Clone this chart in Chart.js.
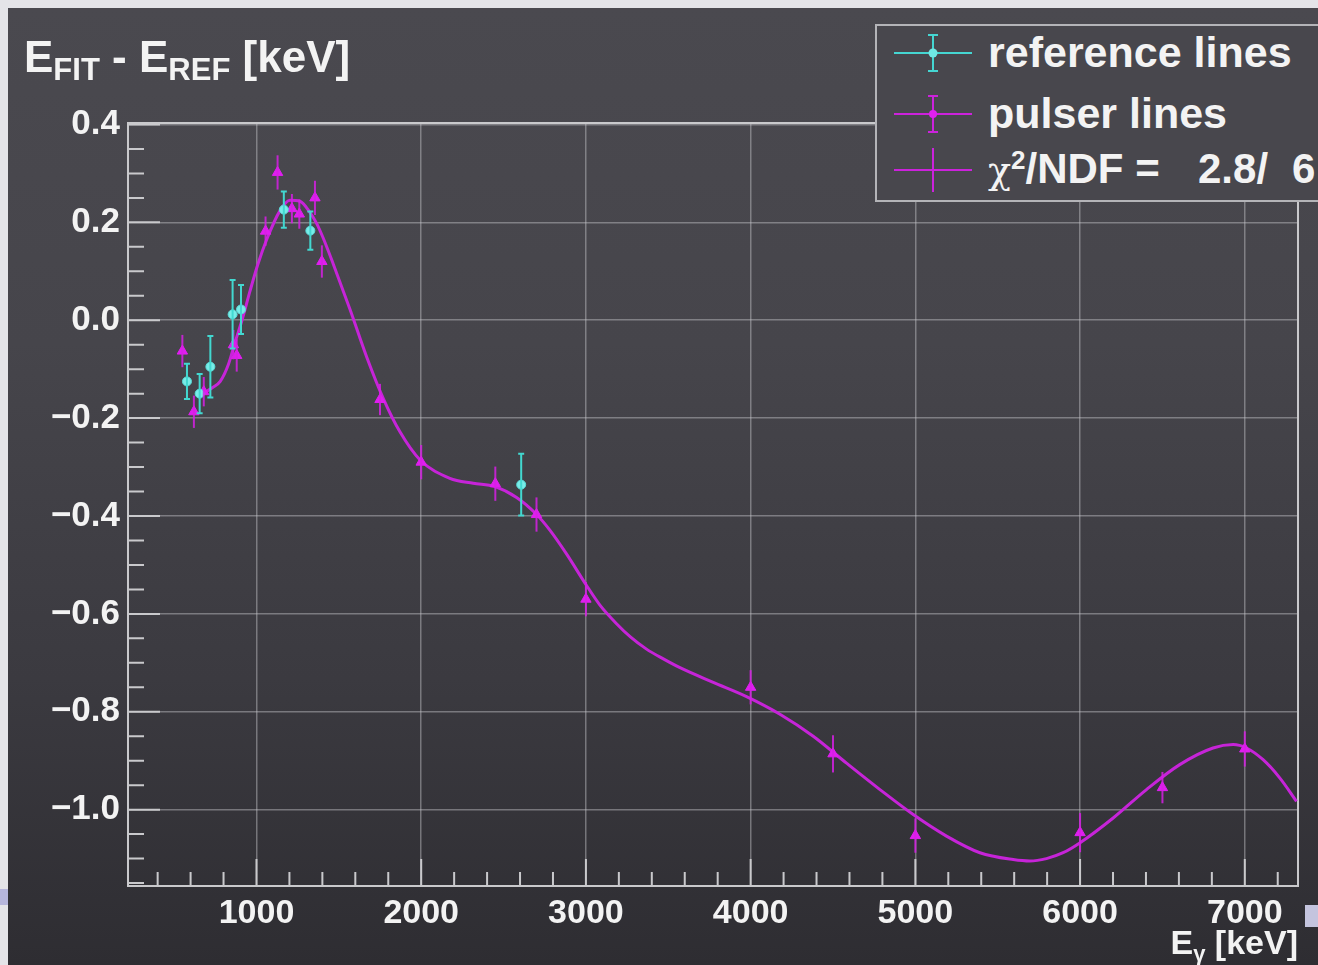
<!DOCTYPE html>
<html>
<head>
<meta charset="utf-8">
<script src="https://cdn.jsdelivr.net/npm/chart.js@4.4.1/dist/chart.umd.min.js"></script>
<style>
  html, body { margin: 0; padding: 0; width: 1318px; height: 965px; overflow: hidden; background: #e4e4e8; }
  #panel { position: absolute; left: 8px; top: 8px; width: 1310px; height: 957px;
    background: linear-gradient(180deg, #4a494f 0%, #46454b 35%, #3b3a40 70%, #2e2d32 100%); }
  #blobL { position: absolute; left: 0; top: 889px; width: 8px; height: 16px; background: #b6b6dc; }
  #blobR { position: absolute; left: 1305px; top: 905px; width: 13px; height: 22px; background: #c4c4de; }
  canvas { position: absolute; left: 0; top: 0; }
  .t { position: absolute; color: #f3f3f3; font-family: "Liberation Sans", Arial, sans-serif; font-weight: bold;
       white-space: nowrap; line-height: 1; }
  #legend { position: absolute; left: 875px; top: 24px; width: 470px; height: 174px;
    border: 2px solid #b4b4b8; background: #48474d; }
  #legend svg { position: absolute; left: 0; top: 0; }
</style>
</head>
<body>
<div id="panel"></div>
<div id="blobL"></div>
<div id="blobR"></div>
<canvas id="c" width="1318" height="965"></canvas>

<div class="t" style="left:24px; top:35px; font-size:44px;">E<span style="font-size:31px; position:relative; top:8px;">FIT</span> - E<span style="font-size:31px; position:relative; top:8px;">REF</span> [keV]</div>

<div id="legend">
  <svg width="470" height="174">
    <!-- reference lines: horizontal bar, error bar with caps, circle -->
    <line x1="17" y1="27" x2="95" y2="27" stroke="#45d6d2" stroke-width="2"/>
    <line x1="56" y1="9" x2="56" y2="45" stroke="#45d6d2" stroke-width="2"/>
    <line x1="51" y1="9" x2="61" y2="9" stroke="#45d6d2" stroke-width="2"/>
    <line x1="51" y1="45" x2="61" y2="45" stroke="#45d6d2" stroke-width="2"/>
    <circle cx="56" cy="27" r="4.5" fill="#6fe8e4"/>
    <!-- pulser lines -->
    <line x1="17" y1="88" x2="95" y2="88" stroke="#cc22dc" stroke-width="2"/>
    <line x1="56" y1="70" x2="56" y2="106" stroke="#cc22dc" stroke-width="2"/>
    <line x1="51" y1="70" x2="61" y2="70" stroke="#cc22dc" stroke-width="2"/>
    <line x1="51" y1="106" x2="61" y2="106" stroke="#cc22dc" stroke-width="2"/>
    <circle cx="56" cy="88" r="4" fill="#e020f0"/>
    <!-- fit -->
    <line x1="17" y1="144" x2="95" y2="144" stroke="#cc22dc" stroke-width="2"/>
    <line x1="56" y1="122" x2="56" y2="166" stroke="#cc22dc" stroke-width="2"/>
  </svg>
</div>
<div class="t" style="left:988px; top:31px; font-size:43px;">reference lines</div>
<div class="t" style="left:988px; top:92px; font-size:43px;">pulser lines</div>
<div class="t" style="left:988px; top:148px; font-size:42px;"><span style="font-family:'DejaVu Serif','Liberation Serif',serif; font-weight:normal; font-size:38px;">χ</span><span style="font-size:26px; position:relative; top:-14px;">2</span>/NDF =</div>
<div class="t" style="left:1198px; top:148px; font-size:42px;">2.8/</div>
<div class="t" style="left:1292px; top:148px; font-size:42px;">6</div>

<div class="t" style="right:20px; top:925px; font-size:34px; text-align:right;">E<span style="font-size:22px; position:relative; top:7px;">γ</span> [keV]</div>

<script>
// Measured line positions: fitted energy minus reference energy, in keV
const pulserE   = [550, 620, 680, 860, 880, 1055, 1128, 1215, 1260, 1355, 1397, 1750, 2000, 2450, 2700, 3000, 4000, 4500, 5000, 6000, 6500, 7000];
const pulserD   = [-0.063, -0.187, -0.146, -0.050, -0.072, 0.182, 0.302, 0.228, 0.217, 0.250, 0.120, -0.162, -0.290, -0.334, -0.397, -0.570, -0.750, -0.886, -1.053, -1.047, -0.955, -0.876];
const pulserErr = [0.033, 0.033, 0.030, 0.030, 0.033, 0.030, 0.035, 0.030, 0.030, 0.035, 0.033, 0.032, 0.035, 0.035, 0.035, 0.035, 0.035, 0.038, 0.035, 0.040, 0.032, 0.036];

const refE   = [578, 655, 720, 855, 906, 1166, 1327, 2607];
const refD   = [-0.125, -0.150, -0.095, 0.012, 0.022, 0.226, 0.183, -0.336];
const refErr = [0.036, 0.040, 0.063, 0.070, 0.050, 0.037, 0.039, 0.063];

// Fitted correction curve
const fitE = [650, 736, 780, 830, 870, 912, 961, 1009, 1062, 1143, 1203, 1264, 1325, 1365, 1405, 1466, 1568, 1669, 1770, 1871, 1992, 2174, 2316, 2448, 2579, 2695, 2781, 2883, 3000, 3085, 3186, 3270, 3368, 3470, 3571, 3773, 3975, 4178, 4380, 4582, 4785, 4987, 5189, 5392, 5594, 5695, 5796, 5897, 5998, 6201, 6403, 6605, 6807, 6929, 7010, 7111, 7212, 7314];
const fitD = [-0.155, -0.137, -0.125, -0.090, -0.045, 0.000, 0.060, 0.115, 0.165, 0.224, 0.245, 0.243, 0.220, 0.198, 0.168, 0.115, 0.022, -0.075, -0.160, -0.228, -0.285, -0.323, -0.333, -0.340, -0.362, -0.395, -0.429, -0.478, -0.540, -0.582, -0.620, -0.647, -0.672, -0.692, -0.710, -0.740, -0.769, -0.805, -0.850, -0.905, -0.959, -1.010, -1.054, -1.088, -1.102, -1.105, -1.100, -1.088, -1.068, -1.017, -0.959, -0.908, -0.874, -0.867, -0.874, -0.898, -0.935, -0.983];

// Axis ticks
const xTicks = [1000, 2000, 3000, 4000, 5000, 6000, 7000];
const yTicks = [-1.0, -0.8, -0.6, -0.4, -0.2, 0.0, 0.2, 0.4];
const xMinorStep = 200;
const yMinorStep = 0.05;
const xRange = [220, 7323];
const yRange = [-1.156, 0.403];

const FONT = '"Liberation Sans", Arial, sans-serif';
const AXIS_COLOR = '#c9c9cc';
const GRID_COLOR = 'rgba(200,200,205,0.45)';

const pts = (xs, ys) => xs.map((x, i) => ({ x: x, y: ys[i] }));

// Frame and inward-pointing tick marks
const frameTicks = {
  id: 'frameTicks',
  beforeDatasetsDraw(chart) {
    const { ctx, chartArea: a, scales: { x, y } } = chart;
    ctx.save();
    ctx.strokeStyle = AXIS_COLOR;
    ctx.lineWidth = 2;
    ctx.strokeRect(a.left, a.top, a.right - a.left, a.bottom - a.top);
    ctx.beginPath();
    for (let v = Math.ceil(x.min / xMinorStep) * xMinorStep; v <= x.max; v += xMinorStep) {
      const px = x.getPixelForValue(v);
      const len = (Math.round(v) % 1000 === 0) ? 27 : 14;
      ctx.moveTo(px, a.bottom);
      ctx.lineTo(px, a.bottom - len);
    }
    const k0 = Math.ceil(y.min / yMinorStep - 1e-9);
    for (let k = k0; k * yMinorStep <= y.max + 1e-9; k++) {
      const v = k * yMinorStep;
      const py = y.getPixelForValue(v);
      const len = (k % 4 === 0) ? 32 : 16;
      ctx.moveTo(a.left, py);
      ctx.lineTo(a.left + len, py);
    }
    ctx.stroke();
    ctx.restore();
  }
};

// Vertical error bars read from each dataset's errY array
const errorBars = {
  id: 'errorBars',
  afterDatasetsDraw(chart) {
    const { ctx, scales: { x, y } } = chart;
    ctx.save();
    chart.data.datasets.forEach((ds) => {
      if (!ds.errY) return;
      ctx.strokeStyle = ds.errColor;
      ctx.lineWidth = 2;
      ds.data.forEach((p, i) => {
        const px = x.getPixelForValue(p.x);
        const y1 = y.getPixelForValue(p.y + ds.errY[i]);
        const y2 = y.getPixelForValue(p.y - ds.errY[i]);
        ctx.beginPath();
        ctx.moveTo(px, y1); ctx.lineTo(px, y2);
        if (ds.capWidth) {
          ctx.moveTo(px - ds.capWidth, y1); ctx.lineTo(px + ds.capWidth, y1);
          ctx.moveTo(px - ds.capWidth, y2); ctx.lineTo(px + ds.capWidth, y2);
        }
        ctx.stroke();
      });
    });
    ctx.restore();
  }
};

const fmtY = (v) => {
  const r = Math.round(v * 10) / 10;
  return (r < 0 ? '\u2212' : '') + Math.abs(r).toFixed(1);
};

new Chart(document.getElementById('c'), {
  type: 'scatter',
  data: {
    datasets: [
      {
        label: 'fit', type: 'line', data: pts(fitE, fitD),
        borderColor: '#c624d8', borderWidth: 3, pointRadius: 0,
        cubicInterpolationMode: 'monotone', fill: false, order: 3
      },
      {
        label: 'pulser lines', data: pts(pulserE, pulserD),
        pointStyle: 'triangle', pointRadius: 6,
        backgroundColor: '#e01ef0', borderColor: '#e01ef0', borderWidth: 1,
        errY: pulserErr, errColor: 'rgba(214,32,228,0.85)', capWidth: 0, order: 2
      },
      {
        label: 'reference lines', data: pts(refE, refD),
        pointStyle: 'circle', pointRadius: 4.5,
        backgroundColor: '#78ece8', borderColor: '#5adcd8', borderWidth: 1,
        errY: refErr, errColor: '#42d8d0', capWidth: 3, order: 1
      }
    ]
  },
  options: {
    responsive: false,
    animation: false,
    events: [],
    layout: { padding: { left: 0, top: 123, right: 20, bottom: 0 } },
    plugins: { legend: { display: false }, tooltip: { enabled: false } },
    scales: {
      x: {
        type: 'linear', min: xRange[0], max: xRange[1],
        afterBuildTicks: (s) => { s.ticks = xTicks.map((v) => ({ value: v })); },
        afterFit: (s) => { s.height = 79; },
        border: { display: false },
        grid: { color: GRID_COLOR, lineWidth: 1.5, drawTicks: false },
        ticks: {
          padding: 7, color: '#f3f3f3', autoSkip: false, maxRotation: 0,
          font: { family: FONT, size: 34, weight: 'bold' },
          callback: (v) => String(v)
        }
      },
      y: {
        type: 'linear', min: yRange[0], max: yRange[1],
        afterBuildTicks: (s) => { s.ticks = yTicks.map((v) => ({ value: v })); },
        afterFit: (s) => { s.width = 128; },
        border: { display: false },
        grid: { color: GRID_COLOR, lineWidth: 1.5, drawTicks: false },
        ticks: {
          padding: 8, color: '#f3f3f3', autoSkip: false,
          font: { family: FONT, size: 35, weight: 'bold' },
          callback: (v) => fmtY(v)
        }
      }
    }
  },
  plugins: [frameTicks, errorBars]
});
</script>
</body>
</html>
